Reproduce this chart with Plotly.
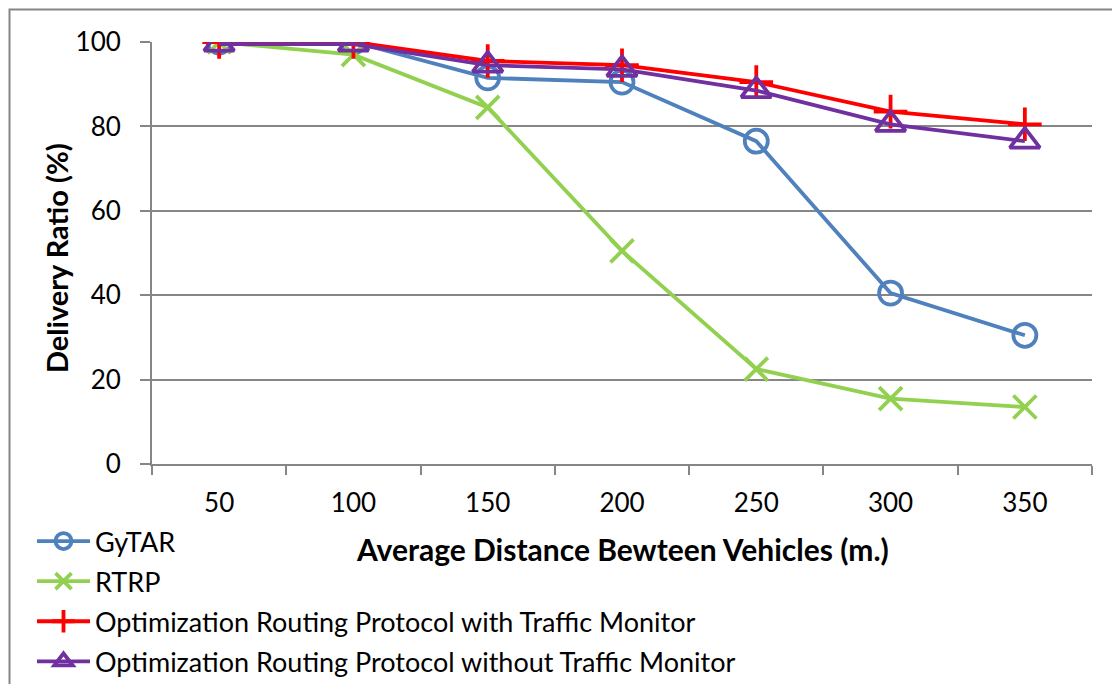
import plotly.graph_objects as go

categories = ["50", "100", "150", "200", "250", "300", "350"]
gytar = [100, 100, 91.5, 90.5, 76.5, 40.5, 30.5]
rtrp = [100, 97, 84.5, 50.5, 22.5, 15.5, 13.5]
with_tm = [100, 100, 95.5, 94.5, 90.5, 83.5, 80.5]
without_tm = [99.5, 99.5, 94.5, 93.5, 88.5, 80.5, 76.5]
y_ticks = [0, 20, 40, 60, 80, 100]

FONT = "Lato"
series = [
    ("GyTAR", gytar, "#4F81BD", "circle-open", 23),
    ("RTRP", rtrp, "#92D050", "x-thin-open", 23),
    ("Optimization Routing Protocol with Traffic Monitor", with_tm, "#FF0000", "cross-thin-open", 24),
    ("Optimization Routing Protocol without Traffic Monitor", without_tm, "#7030A0", "triangle-up-open", 26),
]

fig = go.Figure()
for i, (name, vals, color, sym, size) in enumerate(series):
    fig.add_trace(go.Scatter(
        x=categories, y=vals, name=name, mode="lines+markers", legendgroup=f"g{i}",
        line=dict(color=color, width=3.8),
        marker=dict(symbol=sym, size=size, color=color, line=dict(color=color, width=3.8)),
    ))

# page body has an 8px margin; work in page pixels and shift
OFF = 8
L, R, T, B = 152 - OFF, 1092 - OFF, 42 - OFF, 464 - OFF
W, H = 1120 - OFF, 780 - OFF
pw, ph = R - L, B - T

def px_x(px):
    return (px - OFF - L) / pw

def px_y(py):
    return (B - (py - OFF)) / ph

fig.update_layout(
    width=W, height=H,
    margin=dict(l=L, r=W - R, t=T, b=H - B, pad=0),
    plot_bgcolor="white", paper_bgcolor="white",
    font=dict(family=FONT, size=26, color="black"),
    showlegend=True,
    legend=dict(
        x=px_x(32), y=px_y(517), xanchor="left", yanchor="top",
        font=dict(family=FONT, size=27, color="black"),
        bgcolor="rgba(0,0,0,0)", itemwidth=53, tracegroupgap=2,
    ),
    xaxis=dict(
        type="category", range=[-0.5, 6.5], tickson="boundaries",
        ticks="outside", ticklen=9, tickcolor="#868686", tickwidth=2,
        showline=True, linecolor="#868686", linewidth=2,
        showgrid=False, zeroline=False, ticklabelstandoff=15,
        tickfont=dict(family=FONT, size=26),
    ),
    yaxis=dict(
        range=[0, 100], tickvals=y_ticks, ticks="outside", ticklen=10,
        tickcolor="#868686", tickwidth=2,
        showline=True, linecolor="#868686", linewidth=2,
        showgrid=True, gridcolor="#868686", gridwidth=2, zeroline=False,
        ticklabelstandoff=14, tickfont=dict(family=FONT, size=26),
    ),
    annotations=[
        dict(text="<b>Average Distance Bewteen Vehicles (m.)</b>", x=px_x(622), y=px_y(549),
             xref="paper", yref="paper", showarrow=False, xanchor="center", yanchor="middle",
             font=dict(family=FONT, size=30)),
        dict(text="<b>Delivery Ratio (%)</b>", x=px_x(57), y=px_y(258),
             xref="paper", yref="paper", showarrow=False, xanchor="center", yanchor="middle",
             textangle=-90, font=dict(family=FONT, size=29)),
    ],
    shapes=[
        dict(type="rect", xref="paper", yref="paper",
             x0=px_x(9.5), x1=px_x(1140), y0=px_y(760), y1=px_y(9.5),
             line=dict(color="#868686", width=2), fillcolor="rgba(0,0,0,0)", layer="below"),
    ],
)

fig.write_html("out.html")
